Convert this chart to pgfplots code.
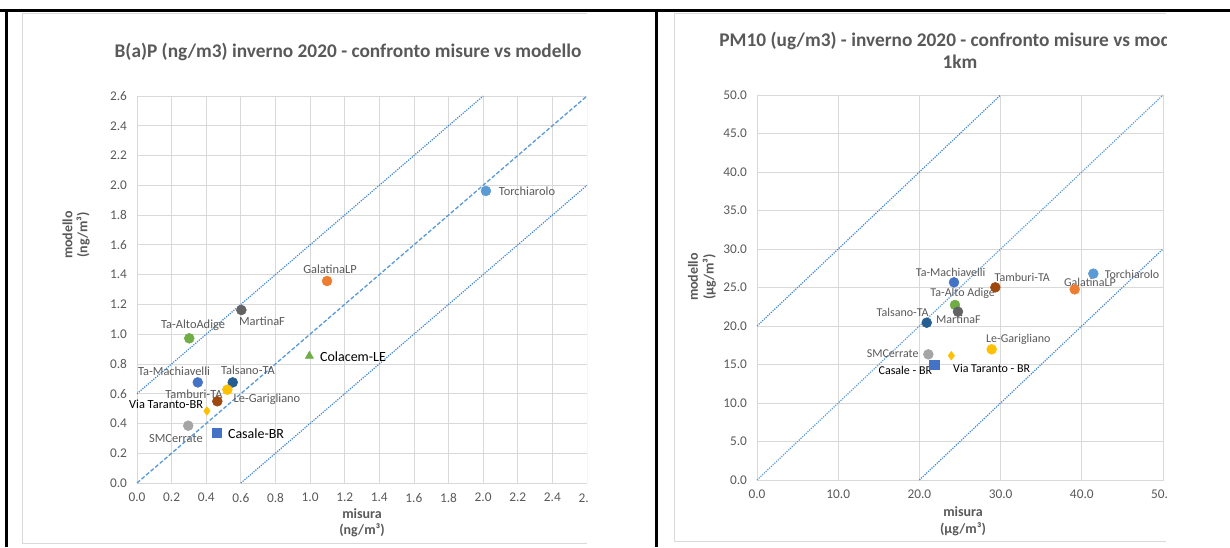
\documentclass[border=0pt]{standalone}
\usepackage{fontspec}
\setmainfont{Carlito}
\usepackage{pgfplots}
\pgfplotsset{compat=1.18}
\definecolor{txt}{HTML}{595959}
\definecolor{grd}{HTML}{D9D9D9}
\definecolor{cTor}{HTML}{5B9BD5}
\definecolor{cGal}{HTML}{ED7D31}
\definecolor{cSMC}{HTML}{A5A5A5}
\definecolor{cGol}{HTML}{FFC000}
\definecolor{cBlu}{HTML}{4472C4}
\definecolor{cGre}{HTML}{70AD47}
\definecolor{cTal}{HTML}{255E91}
\definecolor{cTam}{HTML}{9E480E}
\definecolor{cMar}{HTML}{636363}
\definecolor{ln}{HTML}{5B9BD5}
\definecolor{ln2}{HTML}{3F86D0}
\tikzset{
  lbl/.style={font=\fontsize{9.3}{10}\selectfont, text=txt, inner sep=0pt},
  lblr/.style={font=\fontsize{9}{10}\selectfont, text=txt, inner sep=0pt},
  blk/.style={font=\fontsize{10.5}{12}\selectfont, text=black, inner sep=0pt},
  axl/.style={font=\bfseries\fontsize{10.5}{12}\selectfont, text=txt},
  ttl/.style={font=\bfseries\fontsize{14.5}{16}\selectfont, text=txt},
  dot/.style={line width=0.9pt, dash pattern=on 0.9pt off 0.9pt},
}
\pgfplotsset{
  base/.style={scale only axis, axis line style={draw=grd}, grid=major,
    major grid style={draw=grd, line width=0.6pt}, major tick length=0pt,
    tick label style={font=\fontsize{10}{11}\selectfont, text=txt},
    xticklabel style={yshift=-4pt}, yticklabel style={xshift=-4pt}},
  pt/.style={only marks, mark=*, mark size=3.7pt, mark options={draw=#1, fill=#1}},
}
\begin{document}
\begin{tikzpicture}
\useasboundingbox (0,0) rectangle (922.5pt,410.25pt);
% frame
\draw[line width=2.25pt] (0pt,402pt) -- (922.5pt,402pt);
\draw[line width=2.25pt] (4.5pt,0pt) -- (4.5pt,403pt);
\draw[line width=2.25pt] (492pt,0pt) -- (492pt,403pt);
% chart area borders
\draw[grd, line width=0.75pt] (440.25pt,399.75pt) -- (16.5pt,399.75pt) -- (16.5pt,3pt) -- (440.25pt,3pt);
\draw[grd, line width=0.75pt] (874.5pt,399.75pt) -- (505.5pt,399.75pt) -- (505.5pt,4.5pt) -- (874.5pt,4.5pt);

% ---------------- left chart ----------------
\begin{scope}
\clip (16.5pt,3pt) rectangle (440.25pt,399.75pt);
\node[ttl] at (261pt,371.25pt) {B(a)P (ng/m3) inverno 2020 - confronto misure vs modello};
\node[axl, rotate=90] at (50.6pt,234pt) {modello};
\node[axl, rotate=90] at (62.25pt,234pt) {(ng/m³)};
\node[axl] at (271.5pt,24.75pt) {misura};
\node[axl] at (271.5pt,12.5pt) {(ng/m³)};
\begin{axis}[base, at={(102.75pt,48pt)}, anchor=south west,
  width=337.5pt, height=290.25pt,
  xmin=0, xmax=2.6, ymin=0, ymax=2.6,
  xtick={0,0.2,0.4,0.6,0.8,1.0,1.2,1.4,1.6,1.8,2.0,2.2,2.4,2.6},
  ytick={0,0.2,0.4,0.6,0.8,1.0,1.2,1.4,1.6,1.8,2.0,2.2,2.4,2.6},
  xticklabels={0.0,0.2,0.4,0.6,0.8,1.0,1.2,1.4,1.6,1.8,2.0,2.2,2.4,2.6},
  yticklabels={0.0,0.2,0.4,0.6,0.8,1.0,1.2,1.4,1.6,1.8,2.0,2.2,2.4,2.6},
  clip=false]
\addplot[ln, line width=1pt, dash pattern=on 3pt off 1.5pt] coordinates {(0,0) (2.6,2.6)};
\addplot[ln2, dot] coordinates {(0,0.6) (2.0,2.6)};
\addplot[ln2, dot] coordinates {(0.6,0) (2.6,2.0)};
\addplot[pt=cTor] coordinates {(2.016,1.962)};
\addplot[pt=cGal] coordinates {(1.098,1.357)};
\addplot[pt=cMar] coordinates {(0.603,1.162)};
\addplot[pt=cGre] coordinates {(0.302,0.972)};
\addplot[only marks, mark=triangle*, mark size=3.6pt, color=cGre] coordinates {(0.996,0.853)};
\addplot[pt=cBlu] coordinates {(0.351,0.676)};
\addplot[pt=cTal] coordinates {(0.553,0.676)};
\addplot[pt=cGol] coordinates {(0.522,0.627)};
\addplot[pt=cTam] coordinates {(0.464,0.549)};
\addplot[only marks, mark=diamond*, mark size=3.2pt, color=cGol] coordinates {(0.404,0.484)};
\addplot[pt=cSMC] coordinates {(0.296,0.385)};
\addplot[only marks, mark=square*, mark size=3.5pt, color=cBlu] coordinates {(0.460,0.338)};
\node[lbl] at (axis cs:2.253,1.962) {Torchiarolo};
\node[lbl] at (axis cs:1.115,1.438) {GalatinaLP};
\node[lbl] at (axis cs:0.722,1.088) {MartinaF};
\node[lbl] at (axis cs:0.324,1.061) {Ta-AltoAdige};
\node[blk] at (axis cs:1.248,0.846) {Colacem-LE};
\node[lbl] at (axis cs:0.214,0.752) {Ta-Machiavelli};
\node[lbl] at (axis cs:0.641,0.759) {Talsano-TA};
\node[lbl] at (axis cs:0.329,0.597) {Tamburi-TA};
\node[lbl] at (axis cs:0.751,0.564) {Le-Garigliano};
\node[lbl, text=black, font=\fontsize{9.3}{10}\selectfont] at (axis cs:0.168,0.527) {Via Taranto-BR};
\node[lbl] at (axis cs:0.225,0.296) {SMCerrate};
\node[blk] at (axis cs:0.688,0.329) {Casale-BR};
\end{axis}
\end{scope}

% ---------------- right chart ----------------
\begin{scope}
\clip (505.5pt,4.5pt) rectangle (874.5pt,399.75pt);
\node[ttl] at (720pt,379.5pt) {PM10 (ug/m3) - inverno 2020 - confronto misure vs modello};
\node[ttl] at (720pt,363.75pt) {1km};
\node[axl, rotate=90] at (519.75pt,202.5pt) {modello};
\node[axl, rotate=90] at (532pt,202.5pt) {(µg/m³)};
\node[axl] at (722.25pt,26.25pt) {misura};
\node[axl] at (722.25pt,13.5pt) {(µg/m³)};
\begin{axis}[base, at={(567.75pt,50.25pt)}, anchor=south west,
  width=304.5pt, height=288.75pt,
  xmin=0, xmax=50, ymin=0, ymax=50,
  xtick={0,10,20,30,40,50}, ytick={0,5,10,15,20,25,30,35,40,45,50},
  xticklabels={0.0,10.0,20.0,30.0,40.0,50.0},
  yticklabels={0.0,5.0,10.0,15.0,20.0,25.0,30.0,35.0,40.0,45.0,50.0},
  clip=false]
\addplot[ln, dot] coordinates {(0,0) (50,50)};
\addplot[ln2, dot] coordinates {(0,20) (30,50)};
\addplot[ln2, dot] coordinates {(20,0) (50,30)};
\addplot[pt=cBlu] coordinates {(24.26,25.67)};
\addplot[pt=cTam] coordinates {(29.35,25.02)};
\addplot[pt=cGal] coordinates {(39.12,24.76)};
\addplot[pt=cTor] coordinates {(41.42,26.8)};
\addplot[pt=cGre] coordinates {(24.38,22.73)};
\addplot[pt=cMar] coordinates {(24.75,21.86)};
\addplot[pt=cTal] coordinates {(20.9,20.43)};
\addplot[pt=cGol] coordinates {(28.9,16.97)};
\addplot[pt=cSMC] coordinates {(21.1,16.32)};
\addplot[only marks, mark=diamond*, mark size=3.2pt, color=cGol] coordinates {(23.93,16.15)};
\addplot[only marks, mark=square*, mark size=3.6pt, color=cBlu] coordinates {(21.8,14.94)};
\node[lblr] at (axis cs:23.85,26.97) {Ta-Machiavelli};
\node[lblr] at (axis cs:32.67,26.27) {Tamburi-TA};
\node[lblr] at (axis cs:41.0,25.63) {GalatinaLP};
\node[lblr] at (axis cs:46.18,26.71) {Torchiarolo};
\node[lblr] at (axis cs:25.33,24.24) {Ta-Alto Adige};
\node[lblr] at (axis cs:17.94,21.73) {Talsano-TA};
\node[lblr] at (axis cs:24.8,20.91) {MartinaF};
\node[lblr] at (axis cs:32.18,18.27) {Le-Garigliano};
\node[lblr] at (axis cs:16.71,16.45) {SMCerrate};
\node[lblr, text=black] at (axis cs:18.27,14.2) {Casale - BR};
\node[lblr, text=black] at (axis cs:28.9,14.5) {Via Taranto - BR};
\end{axis}
\end{scope}
\end{tikzpicture}
\end{document}
